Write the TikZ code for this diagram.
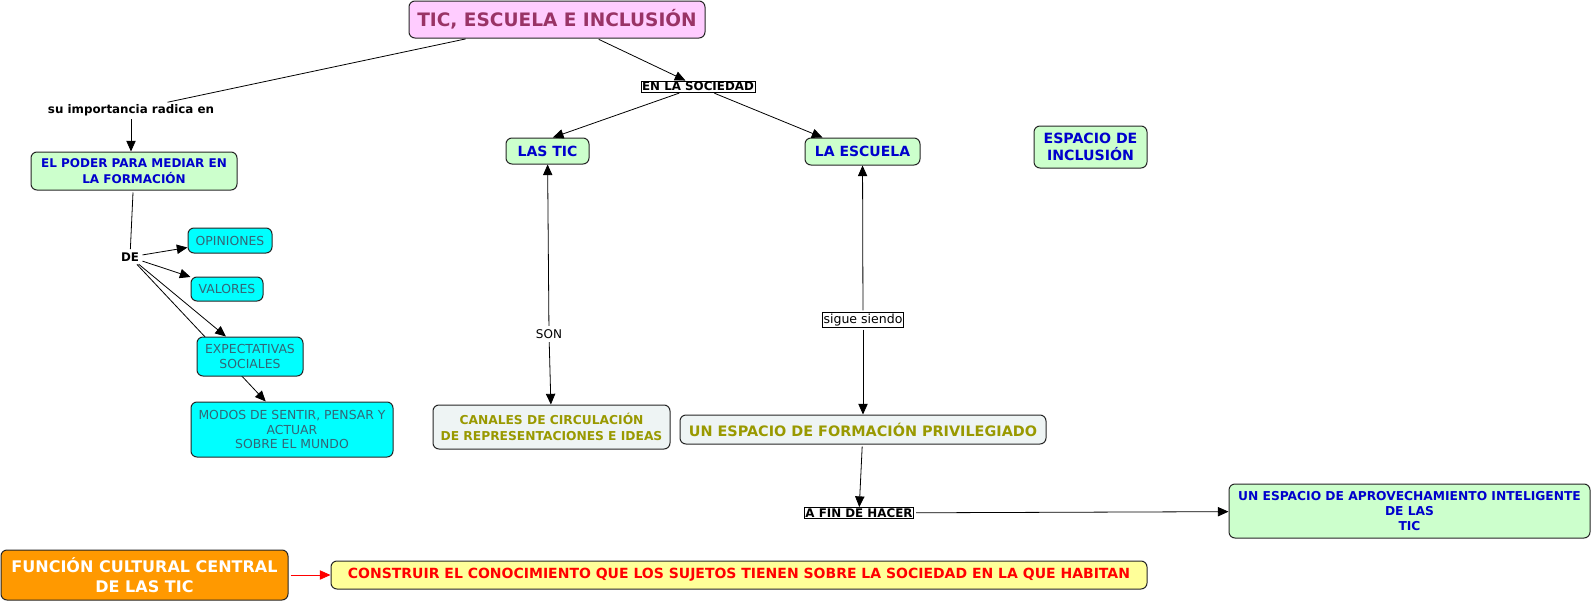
\documentclass[tikz,border=0pt]{standalone}
\usepackage{fontspec}
\setmainfont{DejaVu Sans}
\usetikzlibrary{arrows.meta,positioning}
\definecolor{pinkfill}{HTML}{FFCCFF}
\definecolor{titletext}{HTML}{993366}
\definecolor{greenfill}{HTML}{CCFFCC}
\definecolor{bluetext}{HTML}{0000CC}
\definecolor{cyanfill}{HTML}{00FFFF}
\definecolor{slatetext}{HTML}{336677}
\definecolor{palefill}{HTML}{EEF4F4}
\definecolor{olivetext}{HTML}{999900}
\definecolor{orangefill}{HTML}{FF9900}
\definecolor{yellowfill}{HTML}{FFFF99}
\tikzset{
  cbox/.style={draw=black!85, line width=0.75pt, rounded corners=4.5pt, align=center,
               inner sep=2pt},
  greenbox/.style={cbox, fill=greenfill, text=bluetext, font=\bfseries\fontsize{9}{11.5}\selectfont},
  cyanbox/.style={cbox, fill=cyanfill, text=slatetext, font=\fontsize{9.3}{10.9}\selectfont},
  palebox/.style={cbox, fill=palefill, text=olivetext, font=\bfseries\fontsize{9.2}{11.5}\selectfont},
  phrase/.style={font=\bfseries\fontsize{8.9}{10}\selectfont, inner sep=1pt},
  framed/.style={phrase, draw, line width=0.6pt, fill=white, inner sep=0.8pt},
  link/.style={-{Triangle[length=8pt,width=7pt]}, line width=0.6pt, shorten <=1.5pt},
  plain/.style={line width=0.6pt, shorten <=1.5pt, shorten >=1.5pt},
}

\begin{document}
\begin{tikzpicture}[x=0.75pt, y=-0.75pt]
  \useasboundingbox (0,0) rectangle (1593,603);

  % top
  \node[cbox, fill=pinkfill, text=titletext, font=\bfseries\fontsize{13.9}{16}\selectfont,
        minimum width=222pt, minimum height=27.75pt] (title) at (557,19.5) {TIC, ESCUELA E INCLUSIÓN};
  \node[phrase] (importancia) at (131,110) {su importancia radica en};
  \node[framed] (sociedad) at (698,86.5) {EN LA SOCIEDAD};

  % left branch
  \node[greenbox, minimum width=154.5pt, minimum height=28.5pt] (poder) at (134,171)
       {EL PODER PARA MEDIAR EN\\LA FORMACIÓN};
  \node[phrase] (de) at (130,257) {DE};
  \node[cyanbox, minimum width=63pt, minimum height=18.75pt] (opiniones) at (230,240.5) {OPINIONES};
  \node[cyanbox, minimum width=54pt, minimum height=18pt] (valores) at (227,289) {VALORES};
  \node[cyanbox, minimum width=151.5pt, minimum height=41.25pt] (modos) at (292,429.5)
       {MODOS DE SENTIR, PENSAR Y\\ACTUAR\\SOBRE EL MUNDO};
  \draw[link] (de) -- (modos);
  \node[cyanbox, minimum width=79.5pt, minimum height=29.25pt] (expect) at (250,356.5)
       {EXPECTATIVAS\\SOCIALES};

  % middle
  \node[greenbox, font=\bfseries\fontsize{10.5}{12}\selectfont, minimum width=62.25pt,
        minimum height=19.5pt] (lastic) at (547.5,151) {LAS TIC};
  \node[greenbox, font=\bfseries\fontsize{10.5}{12}\selectfont, minimum width=86.25pt,
        minimum height=20.25pt] (escuela) at (862.5,151.5) {LA ESCUELA};
  \node[greenbox, font=\bfseries\fontsize{10.6}{13}\selectfont, minimum width=84.75pt,
        minimum height=31.5pt] (inclusion) at (1090.5,147) {ESPACIO DE\\INCLUSIÓN};
  \node[font=\fontsize{9}{10}\selectfont, fill=white, inner sep=1pt] (son) at (549,334) {SON};
  \node[font=\fontsize{9.4}{10}\selectfont, draw, line width=0.6pt, fill=white,
        inner sep=0.8pt] (sigue) at (863,320) {sigue siendo};
  \node[palebox, minimum width=177.75pt, minimum height=33pt] (canales) at (551.5,427)
       {CANALES DE CIRCULACIÓN\\DE REPRESENTACIONES E IDEAS};
  \node[palebox, font=\bfseries\fontsize{10.8}{12}\selectfont, minimum width=274.5pt,
        minimum height=21.75pt] (formacion) at (863,429.5) {UN ESPACIO DE FORMACIÓN PRIVILEGIADO};
  \node[framed] (afin) at (859,513) {A FIN DE HACER};
  \node[greenbox, font=\bfseries\fontsize{9.2}{11.25}\selectfont, minimum width=270.75pt,
        minimum height=40.5pt] (aprovecha) at (1409.5,511)
       {UN ESPACIO DE APROVECHAMIENTO INTELIGENTE\\DE LAS\\TIC};

  % bottom
  \node[cbox, fill=orangefill, text=white, font=\bfseries\fontsize{12}{15}\selectfont,
        minimum width=215.25pt, minimum height=37.5pt] (funcion) at (144.5,575)
       {FUNCIÓN CULTURAL CENTRAL\\DE LAS TIC};
  \node[cbox, fill=yellowfill, text=red, font=\bfseries\fontsize{10.5}{12}\selectfont,
        minimum width=612pt, minimum height=21pt] (construir) at (739,575)
       {CONSTRUIR EL CONOCIMIENTO QUE LOS SUJETOS TIENEN SOBRE LA SOCIEDAD EN LA QUE HABITAN};

  % links
  \draw[plain] (title) -- (importancia);
  \draw[link] (importancia) -- (importancia |- poder.north);
  \draw[plain] (poder) -- (de);
  \draw[link] (de) -- (opiniones);
  \draw[link] (de) -- (valores);
  \draw[link] (de) -- (expect);
  \draw[link] (title) -- (sociedad);
  \draw[link] (sociedad) -- ([xshift=4pt]lastic.north);
  \draw[link] (sociedad) -- ([xshift=-30pt]escuela.north);
  \draw[link] (son) -- (lastic);
  \draw[link] (son) -- (canales);
  \draw[link] (sigue) -- (escuela);
  \draw[link] (sigue) -- (formacion);
  \draw[link] (formacion) -- (afin);
  \draw[link] (afin) -- (aprovecha);
  \draw[link, red] (funcion) -- (construir);
\end{tikzpicture}
\end{document}
